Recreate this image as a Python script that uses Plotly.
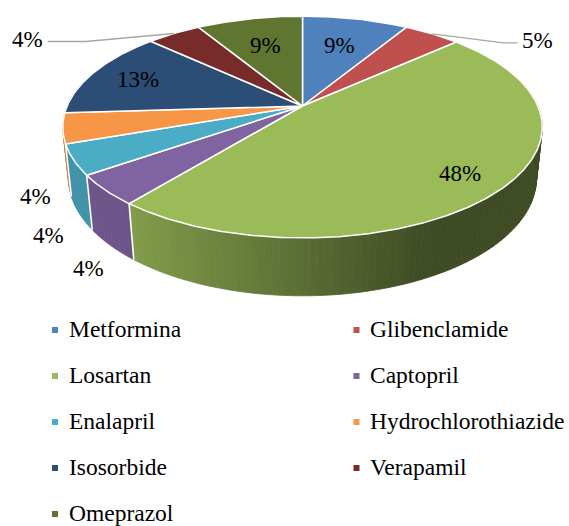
import math
import numpy as np
import plotly.graph_objects as go

# ---------------- data ----------------
drugs = ["Metformina", "Glibenclamide", "Losartan", "Captopril", "Enalapril",
         "Hydrochlorothiazide", "Isosorbide", "Verapamil", "Omeprazol"]
shares = [8.6, 4.6, 47.6, 4.4, 4.4, 4.4, 13.0, 4.4, 8.6]
colors = ["#4F81BD", "#C0504D", "#9BBB59", "#8064A2", "#4BACC6",
          "#F79646", "#2C4D75", "#772C2A", "#5F7530"]

# label placement style per slice: ("in", radius) | ("side", dx, dy) | ("lead", ex, ey, hx)
label_style = [("in", 0.66), ("lead", 71, 9, 14), ("in", 0.82), ("side", -22, 23),
               ("side", -31, 22), ("side", -33, 17), ("in", 0.78), ("lead", -88, 8, -38),
               ("in", 0.66)]

# ---------------- 3-D pie geometry (style) ----------------
W, H = 569, 526
PHI = math.radians(27.0)
DIST = 4.69
THICK = 0.245
FOCAL = 1104.0
CX, CY = 302.5, 106.0
FONT = "Times New Roman, Liberation Serif, Tinos, DejaVu Serif, serif"


def project(x, y, z):
    depth = DIST + y * math.cos(PHI) - z * math.sin(PHI)
    px = CX + FOCAL * x / depth
    py = CY - FOCAL * (y * math.sin(PHI) + z * math.cos(PHI)) / depth
    return px, py


def rim(t, z=0.0, r=1.0):
    return project(r * math.sin(t), r * math.cos(t), z)


def shade(hexcol, f):
    h = hexcol.lstrip("#")
    r, g, b = (int(h[i:i + 2], 16) for i in (0, 2, 4))
    return "rgb(%d,%d,%d)" % (round(r * f), round(g * f), round(b * f))


total = float(sum(shares))
bounds = [0.0] + list(np.cumsum(shares) / total * 2 * math.pi)

fig = go.Figure()

# ---- side wall (gradient strips), painter's order far -> near ----
vis0, vis1 = math.acos(0.25), 2 * math.pi - math.acos(0.25)
step = math.radians(1.5)
strips = []
for i in range(len(shares)):
    a0, a1 = max(bounds[i], vis0), min(bounds[i + 1], vis1)
    if a1 <= a0:
        continue
    n = max(1, math.ceil((a1 - a0) / step))
    for k in range(n):
        t0 = a0 + (a1 - a0) * k / n
        t1 = a0 + (a1 - a0) * (k + 1) / n
        p = [rim(t0), rim(t1), rim(t1, -THICK), rim(t0, -THICK)]
        tm = 0.5 * (t0 + t1)
        pxm = rim(tm)[0]
        f = 0.40 + 0.45 * min(1.0, max(0.0, (430.0 - pxm) / 310.0))
        strips.append((math.cos(tm), [q[0] for q in p] + [p[0][0]],
                       [q[1] for q in p] + [p[0][1]], shade(colors[i], f)))
strips.sort(key=lambda s: -s[0])
for _, xs, ys, col in strips:
    fig.add_trace(go.Scatter(x=xs, y=ys, fill="toself", fillcolor=col, mode="lines",
                             line=dict(color=col, width=0.8), hoverinfo="skip",
                             showlegend=False))

# ---- white separators on the side wall ----
sx, sy = [], []
limit = -1.0 / (DIST * math.cos(PHI))
for b in bounds[1:-1]:
    if math.cos(b) < limit:
        (x0, y0), (x1, y1) = rim(b), rim(b, -THICK)
        sx += [x0, x1, None]
        sy += [y0, y1, None]
fig.add_trace(go.Scatter(x=sx, y=sy, mode="lines", line=dict(color="white", width=1.6),
                         hoverinfo="skip", showlegend=False))

# ---- top face slices ----
for i in range(len(shares)):
    a0, a1 = bounds[i], bounds[i + 1]
    n = max(2, int(math.degrees(a1 - a0) * 2))
    ts = np.linspace(a0, a1, n + 1)
    pts = [project(0, 0, 0)] + [rim(t) for t in ts] + [project(0, 0, 0)]
    fig.add_trace(go.Scatter(x=[p[0] for p in pts], y=[p[1] for p in pts], fill="toself",
                             fillcolor=colors[i], mode="lines",
                             line=dict(color="white", width=1.5), hoverinfo="skip",
                             showlegend=False, name=drugs[i]))

# ---- data labels ----
annotations = []
for i, st in enumerate(label_style):
    pct = int(math.floor(shares[i] / total * 100 + 0.5))
    txt = "%d%%" % pct
    tm = 0.5 * (bounds[i] + bounds[i + 1])
    if st[0] == "in":
        x, y = rim(tm, 0.0, st[1])
        annotations.append(dict(x=x, y=y, text=txt, showarrow=False, xanchor="center",
                                yanchor="middle"))
    elif st[0] == "side":
        ax_, ay_ = rim(tm, -THICK)
        annotations.append(dict(x=ax_ + st[1], y=ay_ + st[2], text=txt, showarrow=False,
                                xanchor="center", yanchor="middle"))
    else:
        x0, y0 = rim(tm)
        ex, ey = x0 + st[1], y0 + st[2]
        hx = ex + st[3]
        fig.add_trace(go.Scatter(x=[x0, ex, hx], y=[y0, ey, ey], mode="lines",
                                 line=dict(color="#A6A6A6", width=1.4), hoverinfo="skip",
                                 showlegend=False))
        annotations.append(dict(x=hx + (3 if st[3] > 0 else -3), y=ey - 2, text=txt,
                                showarrow=False,
                                xanchor="left" if st[3] > 0 else "right", yanchor="middle"))
for a in annotations:
    a["font"] = dict(family=FONT, size=23, color="#000000")
    a["xref"], a["yref"] = "x", "y"

# ---- legend (two columns) ----
col_x = [55.0, 356.5]
row_y0, row_dy = 330.0, 46.0
lx = [col_x[i % 2] for i in range(len(drugs))]
ly = [row_y0 + row_dy * (i // 2) for i in range(len(drugs))]
fig.add_trace(go.Scatter(x=lx, y=ly, mode="markers",
                         marker=dict(symbol="square", size=6, color=colors, line=dict(width=0)),
                         hoverinfo="skip", showlegend=False))
for i, name in enumerate(drugs):
    annotations.append(dict(x=lx[i] + 11.5, y=ly[i] - 1, text=name, showarrow=False,
                            xanchor="left", yanchor="middle", xref="x", yref="y",
                            font=dict(family=FONT, size=23.5, color="#000000")))

fig.update_layout(
    width=W, height=H, autosize=False,
    margin=dict(l=0, r=0, t=0, b=0, pad=0),
    paper_bgcolor="white", plot_bgcolor="white",
    font=dict(family=FONT),
    xaxis=dict(range=[0, W], visible=False, fixedrange=True),
    yaxis=dict(range=[H, 0], visible=False, fixedrange=True),
    showlegend=False,
    annotations=annotations,
    hovermode=False,
)

fig.write_html("out.html", config={"displayModeBar": False, "staticPlot": True},
               post_script="document.body.style.margin='0px';")
